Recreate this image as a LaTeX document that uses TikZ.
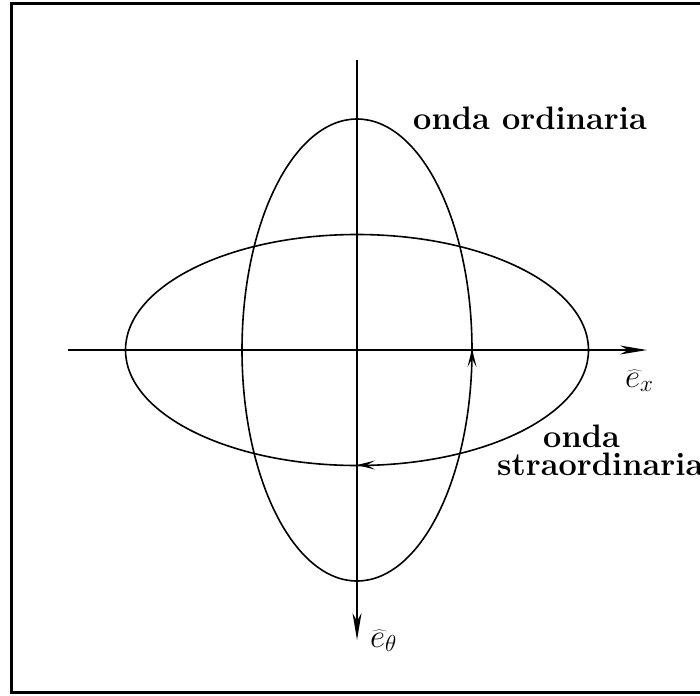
\RequirePackage{fix-cm}
\documentclass[tikz,border=0pt]{standalone}
\usetikzlibrary{arrows.meta}
\begin{document}
\begin{tikzpicture}[x=1pt,y=-1pt,
  curvestyle/.style={line width=1.6pt},
  axhead/.pic={\fill (-27,-4.5) -- (0,0) -- (-27,4.5) -- (-19,0) -- cycle;},
  elhead/.pic={\fill (-18,-4.5) -- (0,0) -- (-18,4.5) -- (-10,0) -- cycle;},
  lbl/.style={inner sep=0pt,anchor=base west,font=\fontsize{32.5}{38}\selectfont\bfseries},
  mlbl/.style={inner sep=0pt,anchor=base west,font=\fontsize{33}{38}\selectfont}]
\useasboundingbox (0,0) rectangle (700,695);
% frame (no right side)
\draw[line width=3pt] (702,4) -- (11.5,4) -- (11.5,692.5) -- (702,692.5);
% axes
\coordinate (xs) at (68,350);
\coordinate (xe) at (647,350);
\coordinate (ys) at (357,60);
\coordinate (ye) at (357,640);
\draw[curvestyle,shorten >=15pt] (xs) -- (xe);
\draw[curvestyle,shorten >=15pt] (ys) -- (ye);
\pic at (xe) {axhead};
\pic[rotate=-90] at (ye) {axhead};
% ellipses
\coordinate (c) at (357,350);
\draw[curvestyle] (c) ellipse [x radius=115, y radius=231];
\draw[curvestyle] (c) ellipse [x radius=231.5, y radius=115.5];
% direction arrows
\coordinate (ov) at (472,349);
\pic[rotate=90] at (ov) {elhead};
\coordinate (sv) at (357,465);
\pic[rotate=180] at (sv) {elhead};
% labels
\node[lbl] (ord) at (413,130) {onda ordinaria};
\node[lbl] (str1) at (543,447) {onda};
\node[lbl] (str2) at (497,475) {straordinaria};
\node[mlbl] (ex) at (625,387) {$\widehat{e}_x$};
\node[mlbl] (et) at (370,647) {$\widehat{e}_\theta$};
\end{tikzpicture}
\end{document}
